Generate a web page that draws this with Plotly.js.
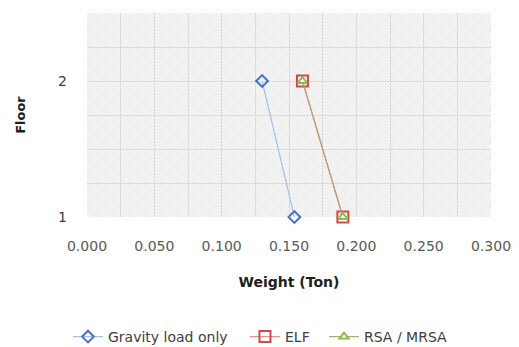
<!DOCTYPE html>
<html><head><meta charset="utf-8">
<script src="https://cdn.plot.ly/plotly-3.0.1.min.js"></script>
<style>html,body{margin:0;padding:0;background:#fff;}#chart{width:519px;height:347px;}</style>
</head><body><div id="chart"></div>
<script>
const floors = [2, 1];
const gravity = [0.130, 0.154];
const elf = [0.160, 0.190];
const rsa = [0.160, 0.190];
const xTicks = [0, 0.05, 0.1, 0.15, 0.2, 0.25, 0.3];
const xTickLabels = ['0.000','0.050','0.100','0.150','0.200','0.250','0.300'];
const yTicks = [1, 2];
const yTickLabels = ['1', '2'];

const W = 404, H = 204;
let lines = '';
for (let i = -H; i < W; i += 3.2) {
  lines += `<line x1="${i}" y1="0" x2="${i+H}" y2="${H}" stroke="#dcdcdc" stroke-width="0.9"/>`;
}
const svg = `<svg xmlns="http://www.w3.org/2000/svg" width="${W}" height="${H}"><rect width="${W}" height="${H}" fill="#fafafa"/>${lines}</svg>`;
const hatch = 'data:image/svg+xml;base64,' + btoa(svg);

const font = 'DejaVu Sans, sans-serif';
const legFont = {family: font, size: 14, color: '#404040'};
const legBase = {orientation: 'h', xref: 'container', yref: 'container', xanchor: 'left',
  yanchor: 'middle', y: 1 - 337/347, font: legFont, itemwidth: 30, bgcolor: 'rgba(0,0,0,0)'};
const traces = [
  {x: gravity, y: floors, name: 'Gravity load only', mode: 'lines+markers', cliponaxis: false,
   legend: 'legend',
   line: {color: '#a7c1e6', width: 1.2},
   marker: {symbol: 'diamond-open', size: 9, color: '#4472c4', line: {width: 2}}},
  {x: elf, y: floors, name: 'ELF', mode: 'lines+markers', cliponaxis: false,
   legend: 'legend2',
   line: {color: '#e89090', width: 1.2},
   marker: {symbol: 'square-open', size: 11, color: '#d04a4a', line: {width: 2}}},
  {x: rsa, y: floors, name: 'RSA / MRSA', mode: 'lines+markers', cliponaxis: false,
   legend: 'legend3',
   line: {color: '#b4a37a', width: 1.2},
   marker: {symbol: 'triangle-up', size: 8, color: '#ffffff', line: {width: 2, color: '#8cbc4e'}}}
];
const layout = {
  width: 519, height: 347,
  margin: {l: 87, r: 28, t: 13, b: 130},
  paper_bgcolor: '#ffffff', plot_bgcolor: 'rgba(0,0,0,0)',
  showlegend: true,
  legend: Object.assign({}, legBase, {x: 68/519}),
  legend2: Object.assign({}, legBase, {x: 245/519}),
  legend3: Object.assign({}, legBase, {x: 324/519}),
  xaxis: {range: [0, 0.3], tickvals: xTicks, ticktext: xTickLabels,
    showgrid: true, gridcolor: '#dcdcdc', gridwidth: 1, zeroline: false,
    minor: {dtick: 0.025, showgrid: true, gridcolor: '#dcdcdc', gridwidth: 1},
    tickfont: {family: font, size: 14, color: '#595959'}, ticklen: 0, ticklabelstandoff: 19,
    showline: false, fixedrange: true,
    title: {text: '<b>Weight (Ton)</b>', font: {family: font, size: 14, color: '#202020'}, standoff: 24}},
  yaxis: {range: [1, 2.5], tickvals: yTicks, ticktext: yTickLabels,
    showgrid: true, gridcolor: '#dcdcdc', zeroline: false,
    minor: {dtick: 0.25, tick0: 1, showgrid: true, gridcolor: '#dcdcdc', gridwidth: 1},
    tickfont: {family: font, size: 14, color: '#404040'}, ticklen: 0, ticklabelstandoff: 19,
    showline: false, fixedrange: true,
    title: {text: '<b>Floor</b>', font: {family: font, size: 13, color: '#202020'}, standoff: 29}},
  images: [{source: hatch, xref: 'paper', yref: 'paper', x: 0, y: 1, sizex: 1, sizey: 1,
    xanchor: 'left', yanchor: 'top', sizing: 'stretch', layer: 'below'}]
};
Plotly.newPlot('chart', traces, layout, {displayModeBar: false, staticPlot: true});
</script></body></html>
